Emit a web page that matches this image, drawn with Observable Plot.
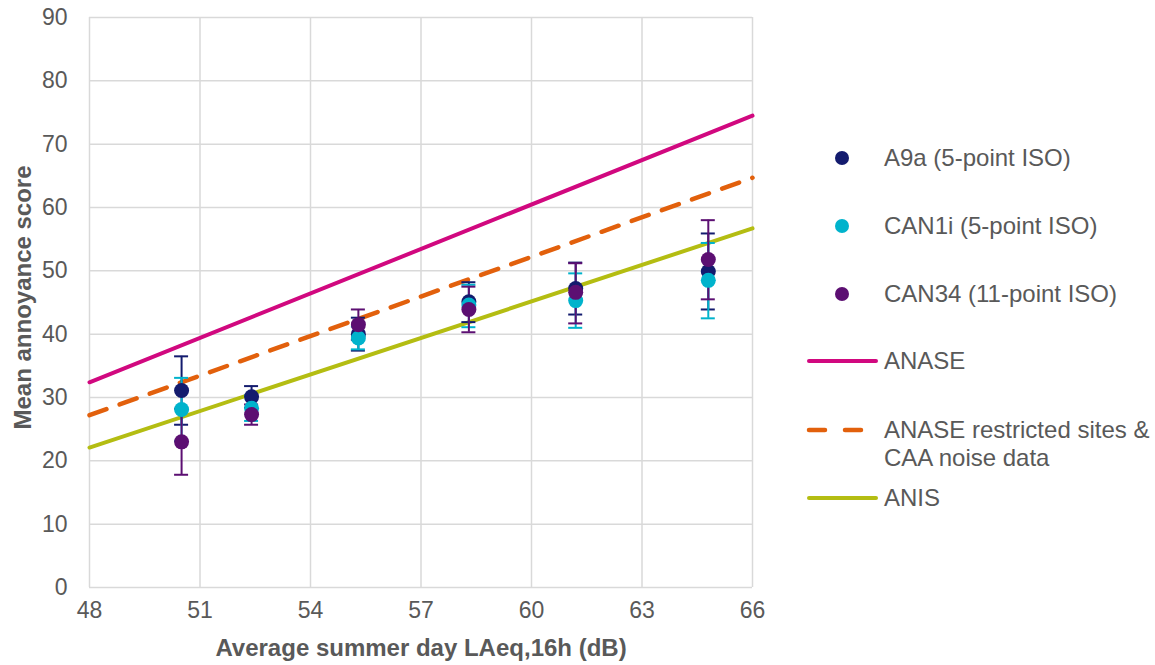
<!DOCTYPE html>
<html>
<head>
<meta charset="utf-8">
<script src="https://cdn.jsdelivr.net/npm/d3@7"></script>
<script src="https://cdn.jsdelivr.net/npm/@observablehq/plot@0.6"></script>
<style>
  html, body { margin: 0; padding: 0; background: #fff; }
  #wrap { position: relative; width: 1155px; height: 665px; font-family: "Liberation Sans", Arial, sans-serif; }
  #legend { position: absolute; left: 0; top: 0; width: 1155px; height: 665px; pointer-events: none; }
  .lg-text { position: absolute; left: 884px; font-size: 24px; color: #595959; line-height: 28px; white-space: nowrap; }
</style>
</head>
<body>
<div id="wrap"></div>
<script>
// ---- data ----
const xTicks = [48, 51, 54, 57, 60, 63, 66];
const yTicks = [0, 10, 20, 30, 40, 50, 60, 70, 80, 90];
const levels = [50.5, 52.4, 55.3, 58.3, 61.2, 64.8];

const a9aMean = [31.1, 30.1, 40.0, 45.1, 47.2, 49.9];
const a9aLow  = [25.7, 28.4, 37.4, 41.9, 43.1, 43.9];
const a9aHigh = [36.5, 31.8, 42.6, 48.2, 51.3, 55.9];

const can1iMean = [28.1, 28.3, 39.4, 44.6, 45.3, 48.5];
const can1iLow  = [23.1, 26.3, 37.6, 41.1, 41.0, 42.5];
const can1iHigh = [33.1, 30.3, 41.2, 47.8, 49.6, 54.4];

const can34Mean = [23.0, 27.3, 41.5, 43.9, 46.6, 51.8];
const can34Low  = [17.8, 25.7, 39.1, 40.3, 41.7, 45.5];
const can34High = [28.2, 28.9, 43.9, 47.5, 51.2, 58.0];

const lineX = [48, 66];
const anase = [32.4, 74.5];
const anaseRestricted = [27.2, 64.7];
const anis = [22.1, 56.7];

const seriesNames = ["A9a (5-point ISO)", "CAN1i (5-point ISO)", "CAN34 (11-point ISO)"];
const seriesColors = ["#131b6e", "#00b3cc", "#5c0f72"];
const lineNames = ["ANASE", "ANASE restricted sites & CAA noise data", "ANIS"];
const lineColors = ["#d1087f", "#e2600c", "#b4bd12"];

const xTitle = "Average summer day LAeq,16h (dB)";
const yTitle = "Mean annoyance score";

// ---- tables ----
const means = [a9aMean, can1iMean, can34Mean];
const lows = [a9aLow, can1iLow, can34Low];
const highs = [a9aHigh, can1iHigh, can34High];
const points = [];
seriesNames.forEach((s, si) => {
  levels.forEach((x, i) => points.push({series: s, si, x, y: means[si][i], lo: lows[si][i], hi: highs[si][i]}));
});
const lineData = [anase, anaseRestricted, anis].map((ys, li) => lineX.map((x, i) => ({line: lineNames[li], x, y: ys[i]})));

const font = '"Liberation Sans", Arial, sans-serif';
const marks = [
  Plot.gridY(yTicks, {stroke: "#d9d9d9", strokeOpacity: 1, strokeWidth: 1.5}),
  Plot.gridX(xTicks, {stroke: "#d9d9d9", strokeOpacity: 1, strokeWidth: 1.5}),
  Plot.axisY(yTicks, {tickSize: 0, tickPadding: 22, fill: "#595959", fontSize: 23, label: null}),
  Plot.axisX(xTicks, {tickSize: 0, tickPadding: 14, fill: "#595959", fontSize: 23, label: null}),
  Plot.line(lineData[0], {x: "x", y: "y", stroke: lineColors[0], strokeWidth: 4}),
  Plot.line(lineData[1], {x: "x", y: "y", stroke: lineColors[1], strokeWidth: 4.5, strokeDasharray: "18,14", strokeLinecap: "round"}),
  Plot.line(lineData[2], {x: "x", y: "y", stroke: lineColors[2], strokeWidth: 4}),
];
seriesNames.forEach((s, si) => {
  const d = points.filter(p => p.si === si);
  marks.push(
    Plot.ruleX(d, {x: "x", y1: "lo", y2: "hi", stroke: seriesColors[si], strokeWidth: 2}),
    Plot.ruleY(d, {y: "lo", x1: "x", x2: "x", insetLeft: -7, insetRight: -7, stroke: seriesColors[si], strokeWidth: 2}),
    Plot.ruleY(d, {y: "hi", x1: "x", x2: "x", insetLeft: -7, insetRight: -7, stroke: seriesColors[si], strokeWidth: 2})
  );
});
seriesNames.forEach((s, si) => {
  marks.push(Plot.dot(points.filter(p => p.si === si), {x: "x", y: "y", r: 7.5, fill: seriesColors[si], stroke: "none"}));
});
marks.push(
  Plot.text([xTitle], {text: d => d, frameAnchor: "bottom", dy: 61, fontSize: 24, fontWeight: "bold", fill: "#595959", lineAnchor: "middle"}),
  Plot.text([yTitle], {text: d => d, frameAnchor: "left", textAnchor: "middle", dx: -66, dy: -5, rotate: -90, fontSize: 24, fontWeight: "bold", fill: "#595959", lineAnchor: "middle"})
);

const chart = Plot.plot({
  width: 1155,
  height: 665,
  marginLeft: 89,
  marginRight: 403,
  marginTop: 17,
  marginBottom: 78,
  x: {domain: [48, 66]},
  y: {domain: [0, 90]},
  style: {fontFamily: font, fontSize: "23px", color: "#595959", background: "#fff"},
  marks
});
const wrap = document.getElementById("wrap");
wrap.appendChild(chart);

// ---- legend overlay ----
const legend = document.createElement("div");
legend.id = "legend";
let html = '<svg width="1155" height="665" style="position:absolute;left:0;top:0">';
const dotY = [158, 226, 294];
seriesNames.forEach((s, i) => {
  html += `<circle cx="842" cy="${dotY[i]}" r="7" fill="${seriesColors[i]}"/>`;
});
const lineY = [361, 430, 498];
html += `<line x1="809" x2="876" y1="${lineY[0]}" y2="${lineY[0]}" stroke="${lineColors[0]}" stroke-width="4" stroke-linecap="round"/>`;
html += `<line x1="809" x2="876" y1="${lineY[1]}" y2="${lineY[1]}" stroke="${lineColors[1]}" stroke-width="4.5" stroke-dasharray="16,20" stroke-linecap="round"/>`;
html += `<line x1="809" x2="876" y1="${lineY[2]}" y2="${lineY[2]}" stroke="${lineColors[2]}" stroke-width="4" stroke-linecap="round"/>`;
html += '</svg>';
seriesNames.forEach((s, i) => {
  html += `<div class="lg-text" style="top:${dotY[i] - 14}px">${s}</div>`;
});
html += `<div class="lg-text" style="top:${lineY[0] - 14}px">${lineNames[0]}</div>`;
html += `<div class="lg-text" style="top:${lineY[1] - 14}px">ANASE restricted sites &amp;<br>CAA noise data</div>`;
html += `<div class="lg-text" style="top:${lineY[2] - 14}px">${lineNames[2]}</div>`;
legend.innerHTML = html;
wrap.appendChild(legend);
</script>
</body>
</html>
